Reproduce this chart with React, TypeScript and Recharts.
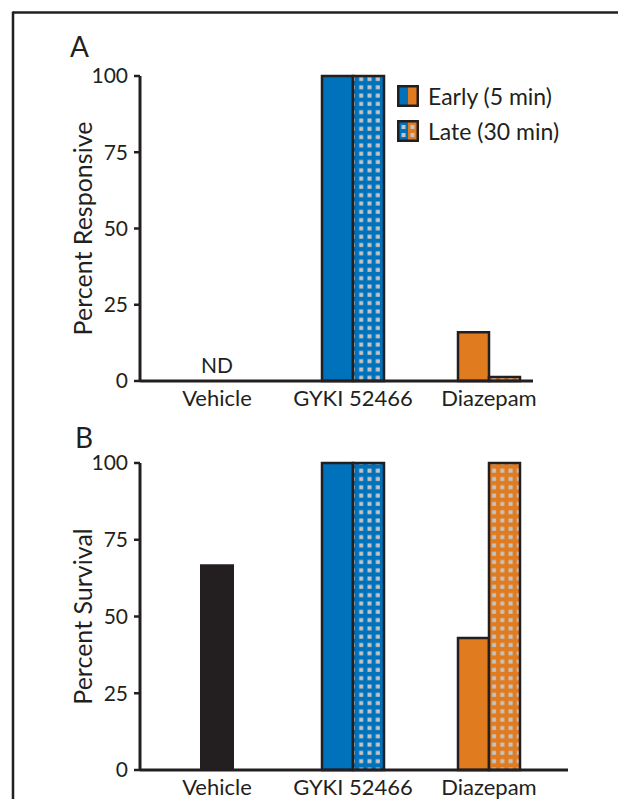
import { BarChart, Bar, XAxis, YAxis, Legend, Cell, ReferenceDot } from 'recharts'

const categories = ['Vehicle', 'GYKI 52466', 'Diazepam']
const responsiveEarly = [null, 100, 16]
const responsiveLate = [null, 100, 1.3]
const survivalVehicle = [67, null, null]
const survivalEarly = [null, 100, 43]
const survivalLate = [null, 100, 100]
const yTicks = [0, 25, 50, 75, 100]
const legendLabels = ['Early (5 min)', 'Late (30 min)']

const DARK = '#231f20'
const BLUE = '#0072bc'
const ORANGE = '#e17b1f'
const DOT = '#c4c4c4'
const FONT = 'Lato, "Open Sans", sans-serif'

const solidFill = ['none', BLUE, ORANGE]
const dottedFill = (p: string) => ['none', `url(#${p}-blue)`, `url(#${p}-orange)`]

const responsiveData = categories.map((name, i) => ({
  name,
  early: responsiveEarly[i],
  late: responsiveLate[i],
}))

const survivalData = categories.map((name, i) => ({
  name,
  vehicle: survivalVehicle[i],
  early: survivalEarly[i],
  late: survivalLate[i],
}))

function Patterns({ prefix }: { prefix: string }) {
  return (
    <defs>
      {[
        ['blue', BLUE],
        ['orange', ORANGE],
      ].map(([k, c]) => (
        <pattern key={k} id={`${prefix}-${k}`} patternUnits="userSpaceOnUse" width={8.3} height={8.3}>
          <rect width={8.3} height={8.3} fill={c} />
          <rect x={2.3} y={2.3} width={4} height={4} fill={DOT} />
        </pattern>
      ))}
    </defs>
  )
}

function LegendBox() {
  return (
    <div style={{ fontFamily: FONT }}>
      {legendLabels.map((label, i) => (
        <div key={label} style={{ display: 'flex', alignItems: 'center', height: 35 }}>
          <svg width={22} height={22} style={{ marginRight: 9 }}>
            <rect x={1.25} y={1.25} width={9.75} height={19.5} fill={BLUE} />
            <rect x={11} y={1.25} width={9.75} height={19.5} fill={ORANGE} />
            {i === 1 &&
              [
                [4.5, 5],
                [4.5, 13],
                [13.5, 5],
                [13.5, 13],
              ].map(([x, y]) => <rect key={`${x}-${y}`} x={x} y={y} width={4} height={4} fill={DOT} />)}
            <rect x={1.25} y={1.25} width={19.5} height={19.5} fill="none" stroke={DARK} strokeWidth={2.5} />
          </svg>
          <span style={{ fontSize: 23, color: DARK }}>{label}</span>
        </div>
      ))}
    </div>
  )
}

const tickFont = { fontSize: 21, fill: DARK }
const catFont = { fontSize: 22, fill: DARK }

export default function App() {
  return (
    <div style={{ fontFamily: FONT }}>
      <svg
        width={618}
        height={799}
        style={{ position: 'absolute', left: 0, top: 0, pointerEvents: 'none' }}
      >
        <line x1={13} y1={12.5} x2={618} y2={12.5} stroke={DARK} strokeWidth={2.5} />
        <line x1={13} y1={11.5} x2={13} y2={799} stroke={DARK} strokeWidth={2.5} />
        <text x={70} y={57} fontSize={28} fill={DARK} fontFamily={FONT}>A</text>
        <text x={75} y={448} fontSize={28} fill={DARK} fontFamily={FONT}>B</text>
      </svg>

      <div style={{ position: 'absolute', left: 0, top: 0 }}>
        <BarChart
          width={618}
          height={420}
          data={responsiveData}
          margin={{ top: 76, right: 85, left: 26, bottom: 9 }}
          barGap={0}
          barSize={31}
        >
          <Patterns prefix="a" />
          <XAxis
            dataKey="name"
            height={30}
            padding={{ left: 9, right: -24 }}
            tick={catFont}
            tickLine={false}
            tickSize={0}
            tickMargin={9}
            axisLine={{ stroke: DARK, strokeWidth: 3 }}
          />
          <YAxis
            width={114}
            domain={[0, 100]}
            ticks={yTicks}
            interval={0}
            tick={tickFont}
            tickSize={6}
            tickMargin={6}
            tickLine={{ stroke: DARK, strokeWidth: 2.5 }}
            axisLine={{ stroke: DARK, strokeWidth: 3 }}
            label={{ value: 'Percent Responsive', angle: -90, position: 'center', fontSize: 25, fill: DARK }}
          />
          <Legend
            layout="vertical"
            align="center"
            verticalAlign="middle"
            content={() => <LegendBox />}
            wrapperStyle={{ left: 397, top: 78, width: 200 }}
          />
          <Bar dataKey="early" stroke={DARK} strokeWidth={2.5} isAnimationActive={false}>
            {responsiveData.map((d, i) => (
              <Cell key={d.name} fill={solidFill[i]} />
            ))}
          </Bar>
          <Bar dataKey="late" stroke={DARK} strokeWidth={2.5} isAnimationActive={false}>
            {responsiveData.map((d, i) => (
              <Cell key={d.name} fill={dottedFill('a')[i]} />
            ))}
          </Bar>
          <ReferenceDot
            x="Vehicle"
            y={5}
            r={0}
            fill="none"
            stroke="none"
            label={{ value: 'ND', position: 'center', fontSize: 21, fill: DARK }}
          />
        </BarChart>
      </div>

      <div style={{ position: 'absolute', left: 0, top: 400 }}>
        <BarChart
          width={618}
          height={399}
          data={survivalData}
          margin={{ top: 63, right: 50, left: 26, bottom: 0 }}
          barGap={0}
          barSize={31}
        >
          <Patterns prefix="b" />
          <XAxis
            dataKey="name"
            height={29}
            padding={{ left: 9, right: 11 }}
            tick={catFont}
            tickLine={false}
            tickSize={0}
            tickMargin={9}
            axisLine={{ stroke: DARK, strokeWidth: 3 }}
          />
          <XAxis xAxisId="v" dataKey="name" hide padding={{ left: 9, right: 11 }} />
          <YAxis
            width={114}
            domain={[0, 100]}
            ticks={yTicks}
            interval={0}
            tick={tickFont}
            tickSize={6}
            tickMargin={6}
            tickLine={{ stroke: DARK, strokeWidth: 2.5 }}
            axisLine={{ stroke: DARK, strokeWidth: 3 }}
            label={{ value: 'Percent Survival', angle: -90, position: 'center', fontSize: 25, fill: DARK }}
          />
          <Bar dataKey="vehicle" xAxisId="v" fill={DARK} barSize={34} isAnimationActive={false} />
          <Bar dataKey="early" stroke={DARK} strokeWidth={2.5} isAnimationActive={false}>
            {survivalData.map((d, i) => (
              <Cell key={d.name} fill={solidFill[i]} />
            ))}
          </Bar>
          <Bar dataKey="late" stroke={DARK} strokeWidth={2.5} isAnimationActive={false}>
            {survivalData.map((d, i) => (
              <Cell key={d.name} fill={dottedFill('b')[i]} />
            ))}
          </Bar>
        </BarChart>
      </div>
    </div>
  )
}
